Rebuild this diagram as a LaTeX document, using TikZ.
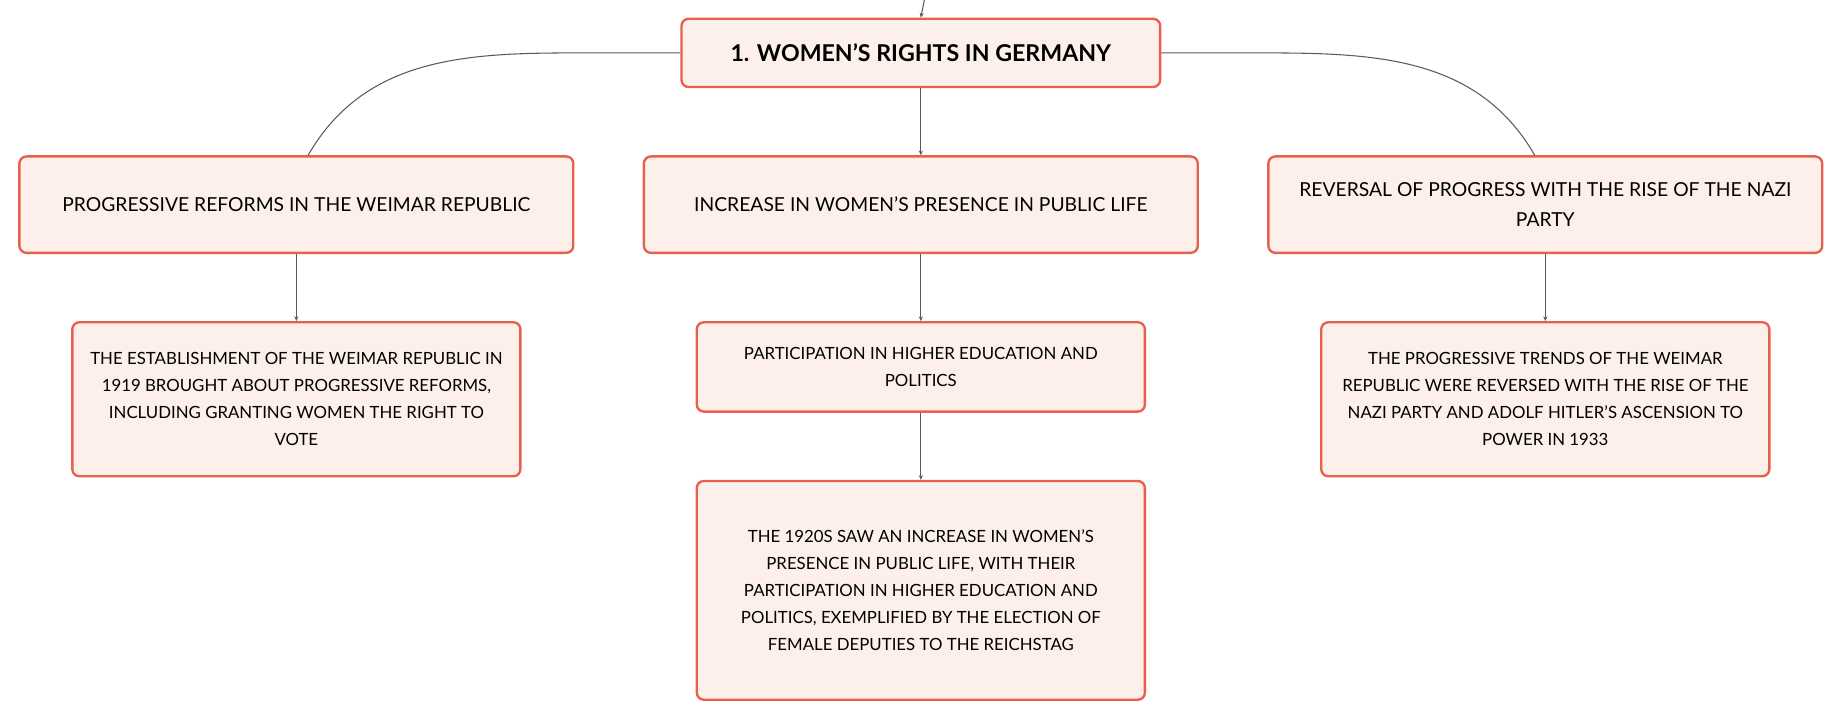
\documentclass[tikz,border=0pt]{standalone}
\usepackage{fontspec}
\setmainfont{Lato}
\usetikzlibrary{arrows.meta,positioning}
\usepackage{xcolor}
\definecolor{boxred}{HTML}{E8604C}
\definecolor{boxfill}{HTML}{FDF0EB}
\definecolor{linkgray}{HTML}{5A5A5A}

\begin{document}
\begin{tikzpicture}[x=1pt,y=1pt,
  topic/.style={draw=boxred,fill=boxfill,line width=2pt,rounded corners=6pt,align=center,inner sep=0pt},
  head/.style={topic,minimum width=407,minimum height=58,font=\fontsize{19.7}{23}\selectfont\bfseries},
  branch/.style={topic,minimum width=471,minimum height=82,font=\fontsize{16.4}{26}\selectfont},
  leaf/.style={topic,minimum width=381,font=\fontsize{14.3}{23}\selectfont},
  link/.style={draw=linkgray,line width=0.9pt,-{Stealth[length=4pt,width=3.5pt]}},
  curvelink/.style={draw=linkgray,line width=0.9pt}]
\useasboundingbox (0,0) rectangle (1568,-613);
\node[head](root) at (783,-45){1. WOMEN'S RIGHTS IN GERMANY};
\coordinate (parent) at (786,0);
\node[branch](reforms) at (252,-174){PROGRESSIVE REFORMS IN THE WEIMAR REPUBLIC};
\node[branch](presence) at (783,-174){INCREASE IN WOMEN'S PRESENCE IN PUBLIC LIFE};
\node[branch](reversal) at (1314,-174){REVERSAL OF PROGRESS WITH THE RISE OF THE NAZI\\PARTY};
\node[leaf,minimum height=131](weimar) at (252,-339.5){THE ESTABLISHMENT OF THE WEIMAR REPUBLIC IN\\1919 BROUGHT ABOUT PROGRESSIVE REFORMS,\\INCLUDING GRANTING WOMEN THE RIGHT TO\\VOTE};
\node[leaf,minimum height=76](education) at (783,-312){PARTICIPATION IN HIGHER EDUCATION AND\\POLITICS};
\node[leaf,minimum height=186](deputies) at (783,-502){THE 1920S SAW AN INCREASE IN WOMEN'S\\PRESENCE IN PUBLIC LIFE, WITH THEIR\\PARTICIPATION IN HIGHER EDUCATION AND\\POLITICS, EXEMPLIFIED BY THE ELECTION OF\\FEMALE DEPUTIES TO THE REICHSTAG};
\node[leaf,minimum height=131](hitler) at (1314,-339.5){THE PROGRESSIVE TRENDS OF THE WEIMAR\\REPUBLIC WERE REVERSED WITH THE RISE OF THE\\NAZI PARTY AND ADOLF HITLER'S ASCENSION TO\\POWER IN 1933};
\draw[link](parent)--(root.north);
\draw[curvelink](root.west)--++(-90,0)to[out=180,in=60]([xshift=10pt]reforms.north);
\draw[curvelink](root.east)--++(88,0)to[out=0,in=120]([xshift=-9pt]reversal.north);
\draw[link](root.south)--(presence.north);
\draw[link](reforms.south)--(weimar.north);
\draw[link](presence.south)--(education.north);
\draw[link](education.south)--(deputies.north);
\draw[link](reversal.south)--(hitler.north);
\end{tikzpicture}
\end{document}
